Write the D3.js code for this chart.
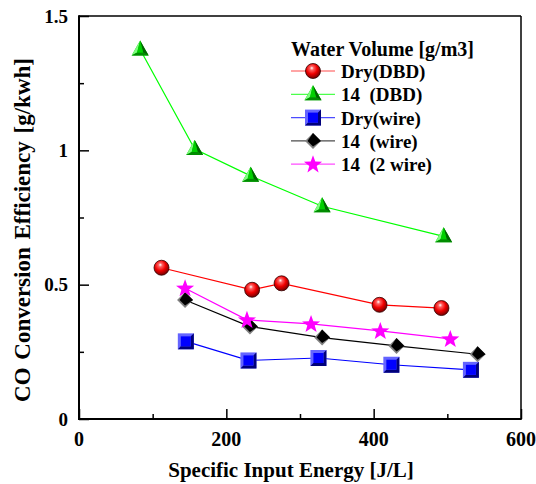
<!DOCTYPE html>
<html>
<head>
<meta charset="utf-8">
<script src="https://cdn.jsdelivr.net/npm/d3@7"></script>
<style>
  html, body { margin: 0; padding: 0; background: #fff; }
</style>
</head>
<body>
<svg id="chart" width="536" height="484"></svg>
<script>
// ---- data ----
const xTicks = [0, 200, 400, 600];
const yTicks = [0, 0.5, 1, 1.5];
const yTickLabels = ["0", "0.5", "1", "1.5"];

const dryDBD_x = [112, 235, 275, 408, 492];
const dryDBD_y = [0.563, 0.481, 0.505, 0.425, 0.413];

const w14DBD_x = [83, 157, 233, 330, 495];
const w14DBD_y = [1.375, 1.005, 0.905, 0.792, 0.680];

const dryWire_x = [145, 230, 325, 424, 532];
const dryWire_y = [0.289, 0.218, 0.227, 0.202, 0.183];

const w14Wire_x = [144, 232, 330, 431, 541];
const w14Wire_y = [0.443, 0.344, 0.303, 0.272, 0.241];

const w142Wire_x = [144, 228, 315, 409, 504];
const w142Wire_y = [0.487, 0.369, 0.354, 0.328, 0.298];

const legendTitle = "Water Volume [g/m3]";
const seriesNames = ["Dry(DBD)", "14\u00a0\u00a0(DBD)", "Dry(wire)", "14\u00a0\u00a0(wire)", "14\u00a0\u00a0(2 wire)"];

// ---- chart ----
const FONT = "Liberation Serif";
const svg = d3.select("#chart");
const L = 79, R = 521, T = 16, B = 419;
const x = d3.scaleLinear().domain([0, 600]).range([L, R]);
const y = d3.scaleLinear().domain([0, 1.5]).range([B, T]);

const defs = svg.append("defs");
const rg = defs.append("radialGradient").attr("id", "sphere").attr("cx", "0.42").attr("cy", "0.38").attr("r", "0.65").attr("fx", "0.42").attr("fy", "0.3");
rg.append("stop").attr("offset", "0").attr("stop-color", "#ffffff");
rg.append("stop").attr("offset", "0.2").attr("stop-color", "#ff6060");
rg.append("stop").attr("offset", "0.55").attr("stop-color", "#f00000");
rg.append("stop").attr("offset", "1").attr("stop-color", "#6a0000");

const series = [
  {name: seriesNames[0], xs: dryDBD_x, ys: dryDBD_y, color: "#ff0000", marker: "circle"},
  {name: seriesNames[1], xs: w14DBD_x, ys: w14DBD_y, color: "#00ff00", marker: "triangle"},
  {name: seriesNames[2], xs: dryWire_x, ys: dryWire_y, color: "#0000ff", marker: "square"},
  {name: seriesNames[3], xs: w14Wire_x, ys: w14Wire_y, color: "#000000", marker: "diamond"},
  {name: seriesNames[4], xs: w142Wire_x, ys: w142Wire_y, color: "#ff00ff", marker: "star"}
];

function txt(sel) {
  return sel.attr("font-family", FONT).attr("font-weight", "bold").attr("fill", "#000");
}

function drawMarker(g, type) {
  if (type === "circle") {
    g.append("circle").attr("r", 7.5).attr("fill", "url(#sphere)").attr("stroke", "#300000").attr("stroke-width", 0.8);
  } else if (type === "triangle") {
    g.append("path").attr("d", "M0,-9 L-8.5,6 L8.5,6 Z").attr("fill", "#00b400");
    g.append("path").attr("d", "M0,-9 L-8.5,6 L-3,3 Z").attr("fill", "#7dff7d");
    g.append("path").attr("d", "M0,-9 L8.5,6 L3,3 Z").attr("fill", "#006400");
    g.append("path").attr("d", "M-8.5,6 L8.5,6 L3,3 L-3,3 Z").attr("fill", "#008c00");
    g.append("path").attr("d", "M0,-9 L-3,3 L3,3 Z").attr("fill", "#00d000");
  } else if (type === "square") {
    const s = 8, i = 5;
    g.append("rect").attr("x", -s).attr("y", -s).attr("width", 2*s).attr("height", 2*s).attr("fill", "#6464ff");
    g.append("path").attr("d", `M${s},${-s} L${s},${s} L${-s},${s} L${-i},${i} L${i},${i} L${i},${-i} Z`).attr("fill", "#00007a");
    g.append("rect").attr("x", -i).attr("y", -i).attr("width", 2*i).attr("height", 2*i).attr("fill", "#0000ff");
  } else if (type === "diamond") {
    g.append("path").attr("d", "M0,-8 L8,0 L0,8 L-8,0 Z").attr("fill", "#808080");
    g.append("path").attr("d", "M0,-8 L8,0 L0,5.5 L-5.5,0 Z").attr("fill", "#000000");
  } else if (type === "star") {
    const pts = [];
    for (let k = 0; k < 10; k++) {
      const rr = k % 2 === 0 ? 9.5 : 3.9;
      const a = -Math.PI / 2 + k * Math.PI / 5;
      pts.push([rr * Math.cos(a), rr * Math.sin(a) + 0.5]);
    }
    g.append("path").attr("d", "M" + pts.map(p => p.join(",")).join("L") + "Z").attr("fill", "#ff00ff");
  }
}

// frame
svg.append("line").attr("x1", L).attr("x2", R).attr("y1", T).attr("y2", T).attr("stroke", "#000").attr("stroke-width", 1.5);
svg.append("line").attr("x1", R).attr("x2", R).attr("y1", T).attr("y2", B).attr("stroke", "#000").attr("stroke-width", 1.5);

// axes
const xAxis = d3.axisBottom(x).tickValues(d3.range(0, 601, 100)).tickSizeInner(0).tickSizeOuter(0).tickFormat("");
const gx = svg.append("g").attr("transform", `translate(0,${B})`).call(xAxis);
gx.select(".domain").remove();
gx.selectAll(".tick line").attr("y2", d => d % 200 === 0 ? -10 : -5).attr("stroke", "#000").attr("stroke-width", 1.5);

const yAxis = d3.axisLeft(y).tickValues(d3.range(0, 1.51, 0.25)).tickSizeInner(0).tickSizeOuter(0).tickFormat("");
const gy = svg.append("g").attr("transform", `translate(${L},0)`).call(yAxis);
gy.select(".domain").remove();
gy.selectAll(".tick line").attr("x2", d => Math.abs(d * 2 - Math.round(d * 2)) < 1e-6 ? 10 : 5).attr("stroke", "#000").attr("stroke-width", 1.5);

svg.append("line").attr("x1", L).attr("x2", L).attr("y1", T - 0.75).attr("y2", B + 1).attr("stroke", "#000").attr("stroke-width", 2);
svg.append("line").attr("x1", L - 1).attr("x2", R + 0.75).attr("y1", B).attr("y2", B).attr("stroke", "#000").attr("stroke-width", 2);

// tick labels
txt(svg.append("g").selectAll("text").data(xTicks).join("text"))
  .attr("x", d => x(d)).attr("y", 446).attr("text-anchor", "middle").attr("font-size", 20).text(d => d);
txt(svg.append("g").selectAll("text").data(yTicks).join("text"))
  .attr("x", 68).attr("y", d => y(d) + 6.5).attr("text-anchor", "end").attr("font-size", 19).text((d, i) => yTickLabels[i]);

// axis titles
txt(svg.append("text")).attr("x", 291).attr("y", 477).attr("text-anchor", "middle").attr("font-size", 21).text("Specific Input Energy [J/L]");
txt(svg.append("text")).attr("transform", `translate(29.5,230) rotate(-90)`).attr("text-anchor", "middle").attr("font-size", 23)
  .attr("word-spacing", 2).text("CO Conversion Efficiency [g/kwh]");

// lines
const line = d3.line().x(d => x(d[0])).y(d => y(d[1]));
series.forEach(s => {
  const pts = s.xs.map((v, i) => [v, s.ys[i]]);
  svg.append("path").datum(pts).attr("d", line).attr("fill", "none").attr("stroke", s.color).attr("stroke-width", 1.2);
});
series.forEach(s => {
  const pts = s.xs.map((v, i) => [v, s.ys[i]]);
  pts.forEach(p => {
    const g = svg.append("g").attr("transform", `translate(${x(p[0])},${y(p[1])})`);
    drawMarker(g, s.marker);
  });
});

// legend
const lg = svg.append("g");
txt(lg.append("text")).attr("x", 291).attr("y", 56).attr("font-size", 20).text(legendTitle);
series.forEach((s, i) => {
  const cy = 71 + i * 23.3;
  lg.append("line").attr("x1", 291).attr("x2", 335).attr("y1", cy).attr("y2", cy).attr("stroke", s.color).attr("stroke-width", 1.2).attr("stroke-opacity", 0.7);
  const g = lg.append("g").attr("transform", `translate(313,${cy})`);
  drawMarker(g, s.marker);
  txt(lg.append("text")).attr("x", 341).attr("y", cy + 7).attr("font-size", 19).text(s.name);
});
</script>
</body>
</html>
